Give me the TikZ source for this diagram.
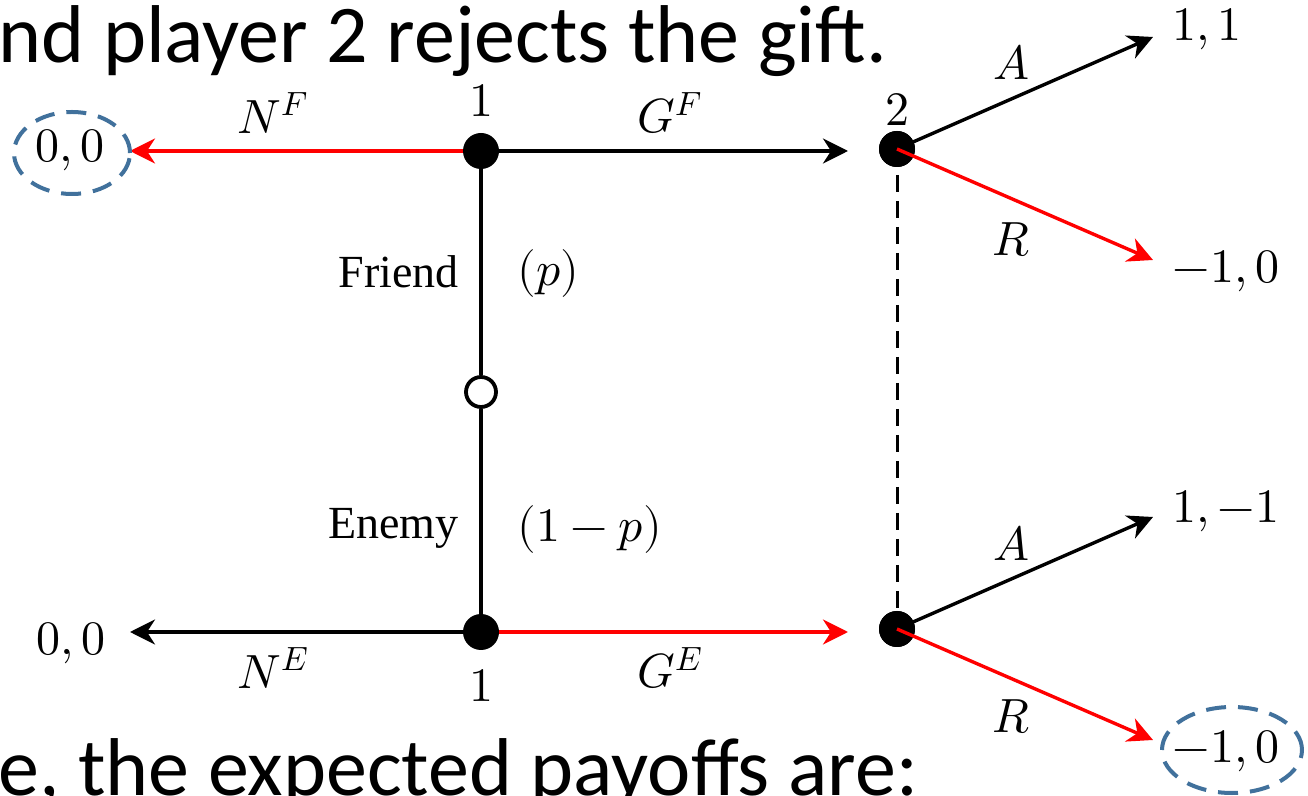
\documentclass[tikz,border=0pt]{standalone}
\usepackage{fontspec}
\usepackage{unicode-math}
\setmainfont{Liberation Serif}
\newfontfamily\slidefont{Carlito}
\usetikzlibrary{arrows.meta,shapes.geometric}
\definecolor{ellblue}{HTML}{41719C}
\definecolor{arrred}{HTML}{FF0000}
\begin{document}
\begin{tikzpicture}[x=0.5pt,y=-0.5pt,
  tip/.style={-{Stealth[length=12.5pt,width=12.5pt,inset=4pt]}},
  blk/.style={draw=black,line width=1.7pt},
  rd/.style={draw=arrred,line width=1.7pt},
  dec/.style={circle,fill=black,inner sep=0pt,minimum size=18pt},
  chance/.style={circle,draw=black,fill=white,line width=1.9pt,inner sep=0pt,minimum size=15pt},
  lab/.style={inner sep=0pt,font=\fontsize{24}{28}\selectfont},
  txt/.style={inner sep=0pt,font=\fontsize{23}{27}\selectfont},
  slide/.style={inner sep=0pt,font=\slidefont\fontsize{41}{48}\selectfont},
  payell/.style={draw=ellblue,line width=2pt,dash pattern=on 10pt off 6pt,ellipse,inner sep=0pt,minimum width=58pt,minimum height=41pt}
]
\useasboundingbox (0,0) rectangle (1308,796);
\fill[white] (0,0) rectangle (1308,796);

% slide text
\node[slide,anchor=base west] (top) at (-2,63) {nd player 2 rejects the gift.};
\node[slide,anchor=base west] (bot) at (-2,796) {e, the expected payoffs are:};

% decision nodes
\node[dec] (f1) at (481,151) {};
\node[dec] (e1) at (481,632) {};
\node[dec] (f2) at (897,149) {};
\node[dec] (e2) at (897,629) {};
\node[chance] (c) at (481,392) {};

% arrow end points
\coordinate (tNF) at (130,151);
\coordinate (tGF) at (848,151);
\coordinate (tNE) at (130,632);
\coordinate (tGE) at (848,632);
\coordinate (tAF) at (1153,37);
\coordinate (tRF) at (1153,260);
\coordinate (tAE) at (1153,517);
\coordinate (tRE) at (1153,740);

% chance branches
\draw[blk] (f1) -- (c);
\draw[blk] (c) -- (e1);
% information set
\draw[draw=black,line width=1.5pt,dash pattern=on 8.5pt off 4.5pt] (f2.center) -- (e2.center);

% player 1 moves
\draw[rd,tip] (f1) -- (tNF);
\draw[blk,tip] (f1) -- (tGF);
\draw[blk,tip] (e1) -- (tNE);
\draw[rd,tip] (e1) -- (tGE);

% player 2 moves
\draw[blk,tip] (f2.center) -- (tAF);
\draw[blk,tip] (e2.center) -- (tAE);
\node[dec] at (f2) {};
\node[dec] at (e2) {};
\draw[rd,tip] (f2.center) -- (tRF);
\draw[rd,tip] (e2.center) -- (tRE);

% payoffs
\node[payell] (pNF) at (72,153) {};
\node[lab] (vNF) at (70,150) {$0,0$};
\node[lab] (vNE) at (71,643) {$0,0$};
\node[lab] (vAF) at (1207,29) {$1,1$};
\node[lab] (vRF) at (1226,271) {$-1,0$};
\node[lab] (vAE) at (1226,511) {$1,-1$};
\node[lab] (vRE) at (1226,751) {$-1,0$};
\node[payell,minimum width=70pt,minimum height=43pt] (pRE) at (1232,750) {};

% player labels
\node[lab] (l1f) at (481,101) {$1$};
\node[lab] (l1e) at (481,686) {$1$};
\node[lab] (l2f) at (897,110) {$2$};

% action labels
\node[lab] (aNF) at (273,113) {$N^F$};
\node[lab] (aGF) at (670,113) {$G^F$};
\node[lab] (aNE) at (273,668) {$N^E$};
\node[lab] (aGE) at (670,668) {$G^E$};
\node[lab] (aAF) at (1011,62) {$A$};
\node[lab] (aRF) at (1011,240) {$R$};
\node[lab] (aAE) at (1011,543) {$A$};
\node[lab] (aRE) at (1011,717) {$R$};

% nature labels
\node[txt,anchor=east] (fr) at (459,272) {Friend};
\node[lab,anchor=west] (pp) at (517,274) {$(p)$};
\node[txt,anchor=east] (en) at (459,528) {Enemy};
\node[lab,anchor=west] (qq) at (517,530) {$(1-p)$};
\end{tikzpicture}
\end{document}
